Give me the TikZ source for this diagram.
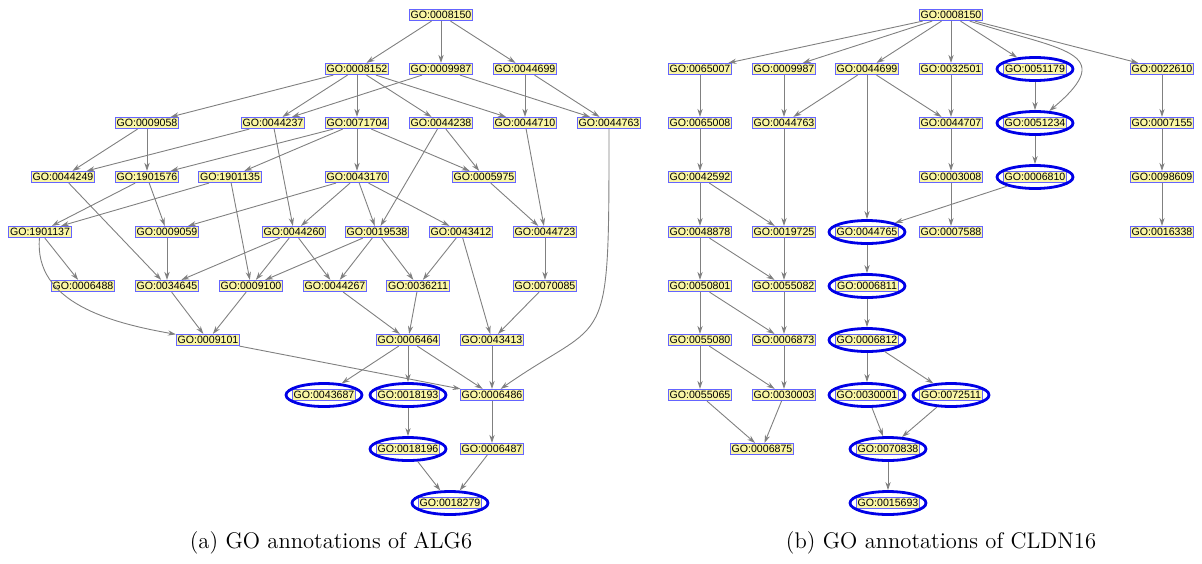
\documentclass[tikz,border=0pt]{standalone}
\usepackage{fontspec}
\usepackage{tikz}
\usetikzlibrary{arrows.meta}
\usetikzlibrary{shapes.geometric}

\newfontfamily\gofont{Liberation Sans}
\definecolor{gofill}{RGB}{250,246,165}
\definecolor{goframe}{RGB}{100,100,255}
\definecolor{gohit}{RGB}{0,0,230}
\definecolor{goedge}{RGB}{128,128,128}

\begin{document}
\begin{tikzpicture}[x=0.5pt, y=-0.5pt, >={Stealth[length=4pt,width=2.6pt]},
                    every edge/.style={draw=goedge, line width=0.45pt},
                    term/.style={draw=goframe, fill=gofill, line width=0.5pt, inner xsep=0.6pt,
                                 inner ysep=0pt, text height=4.3pt, text depth=1.3pt,
                                 font=\gofont\fontsize{5.3}{6}\selectfont},
                    ring/.style={ellipse, draw=gohit, line width=1.4pt, inner sep=0pt,
                                 minimum width=38pt, minimum height=11.5pt}]
\useasboundingbox (0,0) rectangle (1202,563);

% (a) ALG6
\node[term] (a0008150) at (441,15) {GO:0008150};
\node[term] (a0008152) at (357,69) {GO:0008152};
\node[term] (a0009987) at (441,69) {GO:0009987};
\node[term] (a0044699) at (525,69) {GO:0044699};
\node[term] (a0009058) at (147,123) {GO:0009058};
\node[term] (a0044237) at (273,123) {GO:0044237};
\node[term] (a0071704) at (357,123) {GO:0071704};
\node[term] (a0044238) at (441,123) {GO:0044238};
\node[term] (a0044710) at (525,123) {GO:0044710};
\node[term] (a0044763) at (609,123) {GO:0044763};
\node[term] (a0044249) at (63,177) {GO:0044249};
\node[term] (a1901576) at (147,177) {GO:1901576};
\node[term] (a1901135) at (230,177) {GO:1901135};
\node[term] (a0043170) at (357,177) {GO:0043170};
\node[term] (a0005975) at (484,177) {GO:0005975};
\node[term] (a1901137) at (40,232) {GO:1901137};
\node[term] (a0009059) at (167,232) {GO:0009059};
\node[term] (a0044260) at (294,232) {GO:0044260};
\node[term] (a0019538) at (377,232) {GO:0019538};
\node[term] (a0043412) at (461,232) {GO:0043412};
\node[term] (a0044723) at (545,232) {GO:0044723};
\node[term] (a0006488) at (83,286) {GO:0006488};
\node[term] (a0034645) at (167,286) {GO:0034645};
\node[term] (a0009100) at (251,286) {GO:0009100};
\node[term] (a0044267) at (335,286) {GO:0044267};
\node[term] (a0036211) at (418,286) {GO:0036211};
\node[term] (a0070085) at (545,286) {GO:0070085};
\node[term] (a0009101) at (208,340) {GO:0009101};
\node[term] (a0006464) at (408,340) {GO:0006464};
\node[term] (a0043413) at (492,340) {GO:0043413};
\node[term] (a0043687t) at (324,395) {GO:0043687};
\node[ring] (a0043687) at (a0043687t) {};
\node[term] (a0018193t) at (408,395) {GO:0018193};
\node[ring] (a0018193) at (a0018193t) {};
\node[term] (a0006486) at (492,395) {GO:0006486};
\node[term] (a0018196t) at (408,449) {GO:0018196};
\node[ring] (a0018196) at (a0018196t) {};
\node[term] (a0006487) at (492,449) {GO:0006487};
\node[term] (a0018279t) at (450,503) {GO:0018279};
\node[ring] (a0018279) at (a0018279t) {};

\path[->]
(a0008150) edge (a0008152) edge (a0009987) edge (a0044699)
(a0008152) edge (a0009058) edge (a0044237) edge (a0071704) edge (a0044238) edge (a0044710)
(a0009987) edge (a0044237) edge (a0044763)
(a0044699) edge (a0044710) edge (a0044763)
(a0009058) edge (a0044249) edge (a1901576)
(a0044237) edge (a0044249) edge (a0044260)
(a0071704) edge (a1901576) edge (a1901135) edge (a0043170) edge (a0005975)
(a0044238) edge (a0005975) edge (a0019538)
(a0044710) edge (a0044723)
(a0044763) edge [out=-90, in=35, out looseness=2.1, in looseness=1.2] (a0006486)
(a0044249) edge (a0034645)
(a1901576) edge (a1901137) edge (a0009059)
(a1901135) edge (a1901137) edge (a0009100)
(a0043170) edge (a0009059) edge (a0044260) edge (a0019538) edge (a0043412)
(a0005975) edge (a0044723)
(a1901137) edge (a0006488) edge [out=-95, in=170] (a0009101)
(a0009059) edge (a0034645)
(a0044260) edge (a0034645) edge (a0009100) edge (a0044267)
(a0019538) edge (a0009100) edge (a0044267) edge (a0036211)
(a0043412) edge (a0036211) edge (a0043413)
(a0044723) edge (a0070085)
(a0034645) edge (a0009101)
(a0009100) edge (a0009101)
(a0044267) edge (a0006464)
(a0036211) edge (a0006464)
(a0070085) edge (a0043413)
(a0009101) edge (a0006486)
(a0006464) edge (a0043687) edge (a0018193) edge (a0006486)
(a0043413) edge (a0006486)
(a0018193) edge (a0018196)
(a0006486) edge (a0006487)
(a0018196) edge (a0018279)
(a0006487) edge (a0018279);

% (b) CLDN16
\node[term] (b0008150) at (951,15) {GO:0008150};
\node[term] (b0065007) at (700,69) {GO:0065007};
\node[term] (b0009987) at (784,69) {GO:0009987};
\node[term] (b0044699) at (867,69) {GO:0044699};
\node[term] (b0032501) at (951,69) {GO:0032501};
\node[term] (b0051179t) at (1035,69) {GO:0051179};
\node[ring] (b0051179) at (b0051179t) {};
\node[term] (b0022610) at (1162,69) {GO:0022610};
\node[term] (b0065008) at (700,123) {GO:0065008};
\node[term] (b0044763) at (784,123) {GO:0044763};
\node[term] (b0044707) at (951,123) {GO:0044707};
\node[term] (b0051234t) at (1035,123) {GO:0051234};
\node[ring] (b0051234) at (b0051234t) {};
\node[term] (b0007155) at (1162,123) {GO:0007155};
\node[term] (b0042592) at (700,177) {GO:0042592};
\node[term] (b0003008) at (951,177) {GO:0003008};
\node[term] (b0006810t) at (1035,177) {GO:0006810};
\node[ring] (b0006810) at (b0006810t) {};
\node[term] (b0098609) at (1162,177) {GO:0098609};
\node[term] (b0048878) at (700,232) {GO:0048878};
\node[term] (b0019725) at (784,232) {GO:0019725};
\node[term] (b0044765t) at (867,232) {GO:0044765};
\node[ring] (b0044765) at (b0044765t) {};
\node[term] (b0007588) at (951,232) {GO:0007588};
\node[term] (b0016338) at (1162,232) {GO:0016338};
\node[term] (b0050801) at (700,286) {GO:0050801};
\node[term] (b0055082) at (784,286) {GO:0055082};
\node[term] (b0006811t) at (867,286) {GO:0006811};
\node[ring] (b0006811) at (b0006811t) {};
\node[term] (b0055080) at (700,340) {GO:0055080};
\node[term] (b0006873) at (784,340) {GO:0006873};
\node[term] (b0006812t) at (867,340) {GO:0006812};
\node[ring] (b0006812) at (b0006812t) {};
\node[term] (b0055065) at (700,395) {GO:0055065};
\node[term] (b0030003) at (784,395) {GO:0030003};
\node[term] (b0030001t) at (867,395) {GO:0030001};
\node[ring] (b0030001) at (b0030001t) {};
\node[term] (b0072511t) at (951,395) {GO:0072511};
\node[ring] (b0072511) at (b0072511t) {};
\node[term] (b0006875) at (762,449) {GO:0006875};
\node[term] (b0070838t) at (888,449) {GO:0070838};
\node[ring] (b0070838) at (b0070838t) {};
\node[term] (b0015693t) at (888,503) {GO:0015693};
\node[ring] (b0015693) at (b0015693t) {};

\path[->]
(b0008150) edge (b0065007) edge (b0009987) edge (b0044699) edge (b0032501)
           edge (b0051179) edge (b0022610)
           edge [out=-18, in=40, looseness=2] (b0051234)
(b0065007) edge (b0065008)
(b0065008) edge (b0042592)
(b0042592) edge (b0048878) edge (b0019725)
(b0048878) edge (b0050801) edge (b0055082)
(b0050801) edge (b0055080) edge (b0006873)
(b0055080) edge (b0055065) edge (b0030003)
(b0055065) edge (b0006875)
(b0009987) edge (b0044763)
(b0044763) edge (b0019725)
(b0019725) edge (b0055082)
(b0055082) edge (b0006873)
(b0006873) edge (b0030003)
(b0030003) edge (b0006875)
(b0044699) edge (b0044763) edge (b0044765) edge (b0044707)
(b0032501) edge (b0044707)
(b0044707) edge (b0003008)
(b0003008) edge (b0007588)
(b0051179) edge (b0051234)
(b0051234) edge (b0006810)
(b0006810) edge (b0044765)
(b0022610) edge (b0007155)
(b0007155) edge (b0098609)
(b0098609) edge (b0016338)
(b0044765) edge (b0006811)
(b0006811) edge (b0006812)
(b0006812) edge (b0030001) edge (b0072511)
(b0030001) edge (b0070838)
(b0072511) edge (b0070838)
(b0070838) edge (b0015693);

% captions
\node[font=\fontsize{11.3}{13}\selectfont] (capa) at (331,543) {(a) GO annotations of ALG6};
\node[font=\fontsize{11.3}{13}\selectfont] (capb) at (941,543) {(b) GO annotations of CLDN16};
\end{tikzpicture}
\end{document}
